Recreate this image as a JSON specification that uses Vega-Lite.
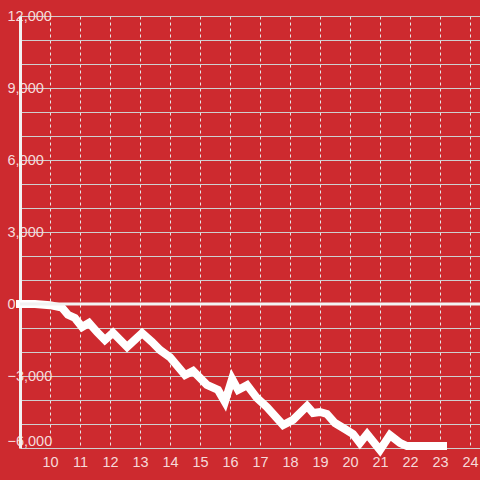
{
  "$schema": "https://vega.github.io/schema/vega-lite/v6.json",
  "width": 460,
  "height": 432,
  "autosize": {"type": "none"},
  "padding": {"left": 20, "top": 16, "right": 0, "bottom": 32},
  "background": "#CD2A2F",
  "config": {
    "view": {"stroke": null}
  },
  "resolve": {"axis": {"y": "independent"}},
  "data": {"values": [
    {"x": 9.0, "y": 0}, {"x": 9.5, "y": 0}, {"x": 10.0, "y": -50}, {"x": 10.4, "y": -150},
    {"x": 10.6, "y": -450}, {"x": 10.83, "y": -580}, {"x": 11.07, "y": -960}, {"x": 11.3, "y": -790},
    {"x": 11.57, "y": -1170}, {"x": 11.83, "y": -1500}, {"x": 12.1, "y": -1200}, {"x": 12.57, "y": -1790},
    {"x": 13.07, "y": -1210}, {"x": 13.4, "y": -1580}, {"x": 13.67, "y": -1920}, {"x": 14.0, "y": -2220},
    {"x": 14.5, "y": -2960}, {"x": 14.77, "y": -2790}, {"x": 15.23, "y": -3370}, {"x": 15.6, "y": -3580},
    {"x": 15.83, "y": -4080}, {"x": 16.07, "y": -3120}, {"x": 16.27, "y": -3580}, {"x": 16.57, "y": -3380},
    {"x": 16.9, "y": -3920}, {"x": 17.23, "y": -4290}, {"x": 17.77, "y": -5040}, {"x": 18.1, "y": -4830},
    {"x": 18.57, "y": -4250}, {"x": 18.77, "y": -4540}, {"x": 19.0, "y": -4500}, {"x": 19.23, "y": -4580},
    {"x": 19.5, "y": -4960}, {"x": 19.83, "y": -5210}, {"x": 20.1, "y": -5420}, {"x": 20.33, "y": -5790},
    {"x": 20.57, "y": -5420}, {"x": 21.0, "y": -6080}, {"x": 21.33, "y": -5460}, {"x": 21.67, "y": -5790},
    {"x": 21.9, "y": -5920}, {"x": 23.1, "y": -5920}
  ]},
  "layer": [
    {
      "mark": {"type": "line", "color": "#ffffff", "strokeWidth": 8, "strokeCap": "square", "clip": false},
      "encoding": {
        "x": {
          "field": "x", "type": "quantitative",
          "scale": {"domain": [9, 24.3333], "nice": false, "zero": false},
          "axis": {
            "title": null, "values": [10,11,12,13,14,15,16,17,18,19,20,21,22,23,24],
            "grid": true, "gridColor": "#e6e6e6", "gridDash": [3, 3], "gridWidth": 1,
            "domain": false, "ticks": false, "labelPadding": 7, "labelFlush": false, "labelOverlap": false,
            "labelFont": "Liberation Sans", "labelFontSize": 14.5, "labelColor": "#f6dada"
          }
        },
        "y": {
          "field": "y", "type": "quantitative",
          "scale": {"domain": [-6000, 12000], "nice": false},
          "axis": {
            "title": null,
            "values": [-6000,-5000,-4000,-3000,-2000,-1000,0,1000,2000,3000,4000,5000,6000,7000,8000,9000,10000,11000,12000],
            "labelExpr": "datum.value % 3000 === 0 ? datum.label : ''",
            "grid": true, "gridColor": "#cfcfcf", "gridWidth": 1.2,
            "domain": true, "domainColor": "#f2f2f2", "domainWidth": 3,
            "ticks": false, "labelAlign": "left", "labelPadding": 13,
            "labelBaseline": {"condition": {"test": "datum.value === -6000", "value": "bottom"}, "value": "middle"},
            "labelFlush": false, "labelOverlap": false,
            "labelFont": "Liberation Sans", "labelFontSize": 14.5, "labelColor": "#f6dada"
          }
        }
      }
    },
    {
      "data": {"values": [{"y": 0}]},
      "mark": {"type": "rule", "color": "#f2f2f2", "strokeWidth": 3},
      "encoding": {"y": {"field": "y", "type": "quantitative", "axis": null}}
    }
  ]
}
